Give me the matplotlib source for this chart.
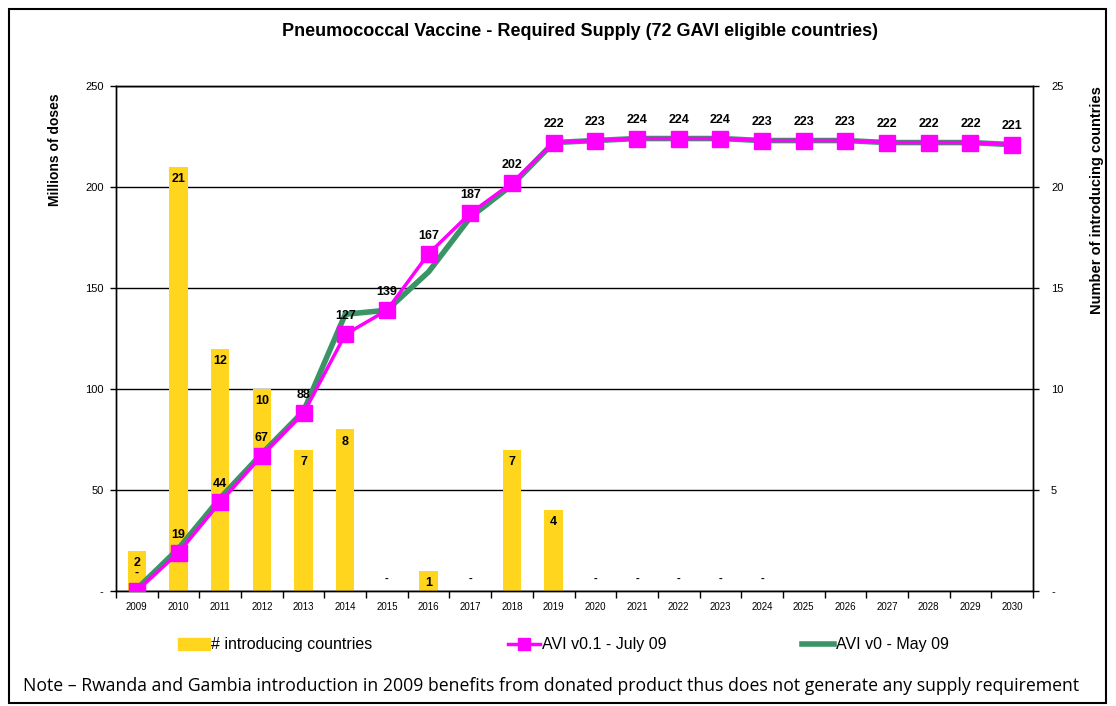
import numpy as np
import matplotlib
matplotlib.use("Agg")
import matplotlib.pyplot as plt
from matplotlib.patches import Rectangle
from matplotlib.lines import Line2D

years = [str(y) for y in range(2009, 2031)]
# number of introducing countries (right axis); None = no label at all
countries = [2, 21, 12, 10, 7, 8, 0, 1, 0, 7, 4, 0, 0, 0, 0, 0,
             None, None, None, None, None, None]
# millions of doses
avi_v01 = [0, 19, 44, 67, 88, 127, 139, 167, 187, 202, 222, 223, 224, 224,
           224, 223, 223, 223, 222, 222, 222, 221]
avi_v0 = [1, 21, 46, 68, 89, 137, 139, 158, 185, 201, 222, 223, 224, 224,
          224, 223, 223, 223, 222, 222, 222, 221]

YELLOW = "#FFD51E"
MAGENTA = "#FF00FF"
GREEN = "#3A9466"
FONT = "Liberation Sans"

fig = plt.figure(figsize=(11.16, 7.06), dpi=100)
ax2 = fig.add_axes([116 / 1116, 1 - 591 / 706, 917 / 1116, 505 / 706])
ax = ax2.twinx()
ax.set_zorder(ax2.get_zorder() + 1)
ax.patch.set_visible(False)

x = np.arange(len(years))

# bars on right axis
bar_vals = [v if v is not None else 0 for v in countries]
ax2.bar(x, bar_vals, width=0.44, color=YELLOW, zorder=2)
ax2.set_ylim(0, 25)
ax2.set_axisbelow(True)
ax2.grid(axis="y", color="black", lw=1.0, zorder=0)
for xi, v in zip(x, countries):
    if v is None:
        continue
    if v == 0:
        ax2.text(xi, 0.6, "-", ha="center", va="center", fontsize=8,
                 fontweight="bold", family=FONT)
    else:
        ax2.text(xi, v - 0.6, str(v), ha="center", va="center", fontsize=9,
                 fontweight="bold", family=FONT)

# lines on left axis
ax.plot(x, avi_v0, color=GREEN, lw=4, zorder=3)
ax.plot(x, avi_v01, color=MAGENTA, lw=2.5, marker="s", markersize=11,
        zorder=4)
for xi, v in zip(x, avi_v01):
    lbl = "-" if v == 0 else str(v)
    ax.text(xi, v + 6, lbl, ha="center", va="bottom", fontsize=9,
            fontweight="bold", family=FONT)
ax.set_ylim(0, 250)
ax.set_xlim(-0.5, len(years) - 0.5)

# swap sides: left axis is the doses scale
ax.yaxis.tick_left()
ax.yaxis.set_label_position("left")
ax2.yaxis.tick_right()
ax2.yaxis.set_label_position("right")

ax.set_yticks([0, 50, 100, 150, 200, 250])
ax.set_yticklabels(["-", "50", "100", "150", "200", "250"])
ax2.set_yticks([0, 5, 10, 15, 20, 25])
ax2.set_yticklabels(["-", "5", "10", "15", "20", "25"])
ax.tick_params(axis="y", direction="out", length=4, width=1,
               labelsize=8, pad=5)
ax2.tick_params(axis="y", direction="out", length=4, width=1,
                labelsize=8, pad=9)
for a in (ax, ax2):
    for lab in a.get_yticklabels():
        lab.set_family(FONT)

ax2.set_xticks(x)
ax2.set_xticklabels(years, fontsize=7, family=FONT)
ax2.set_xticks(np.arange(-0.5, len(years), 1), minor=True)
ax2.tick_params(axis="x", which="major", length=0, pad=8)
ax2.tick_params(axis="x", which="minor", length=5, width=1, direction="out")
ax.tick_params(axis="x", length=0, labelbottom=False)

for a in (ax, ax2):
    for s in a.spines.values():
        s.set_color("black")
        s.set_linewidth(1.0)

ax.set_ylabel("Millions of doses", fontsize=10, fontweight="bold",
              family=FONT, loc="top")
ax.yaxis.set_label_coords(-54 / 917, 0.985)
ax2.set_ylabel("Number of introducing countries", fontsize=10.5,
               fontweight="bold", family=FONT, loc="top")
ax2.yaxis.set_label_coords(1 + 57 / 917, 1.0)

fig.text(580 / 1116, 1 - 32 / 706,
         "Pneumococcal Vaccine - Required Supply (72 GAVI eligible countries)",
         ha="center", va="center", fontsize=13, fontweight="bold",
         family=FONT)

handles = [
    Rectangle((0, 0), 1, 1, color=YELLOW),
    Line2D([], [], color=MAGENTA, lw=2.5, marker="s", markersize=8),
    Line2D([], [], color=GREEN, lw=4),
]
labels = ["# introducing countries", "AVI v0.1 - July 09", "AVI v0 - May 09"]
fig.legend(handles, labels, loc="center", ncol=3, frameon=False,
           bbox_to_anchor=(563 / 1116, 1 - 645 / 706),
           prop={"family": FONT, "size": 11.5}, columnspacing=8.5,
           handlelength=2.0, handletextpad=0.1)

fig.text(551 / 1116, 1 - 686 / 706,
         "Note \u2013 Rwanda and Gambia introduction in 2009 benefits from "
         "donated product thus does not generate any supply requirement",
         ha="center", va="center", fontsize=12.7, family="Open Sans")

# outer frame
fig.patches.append(Rectangle((9 / 1116, 3 / 706), 1097 / 1116, 694 / 706,
                             transform=fig.transFigure, fill=False,
                             edgecolor="black", lw=1.5))

fig.savefig("out.png", dpi=100)
